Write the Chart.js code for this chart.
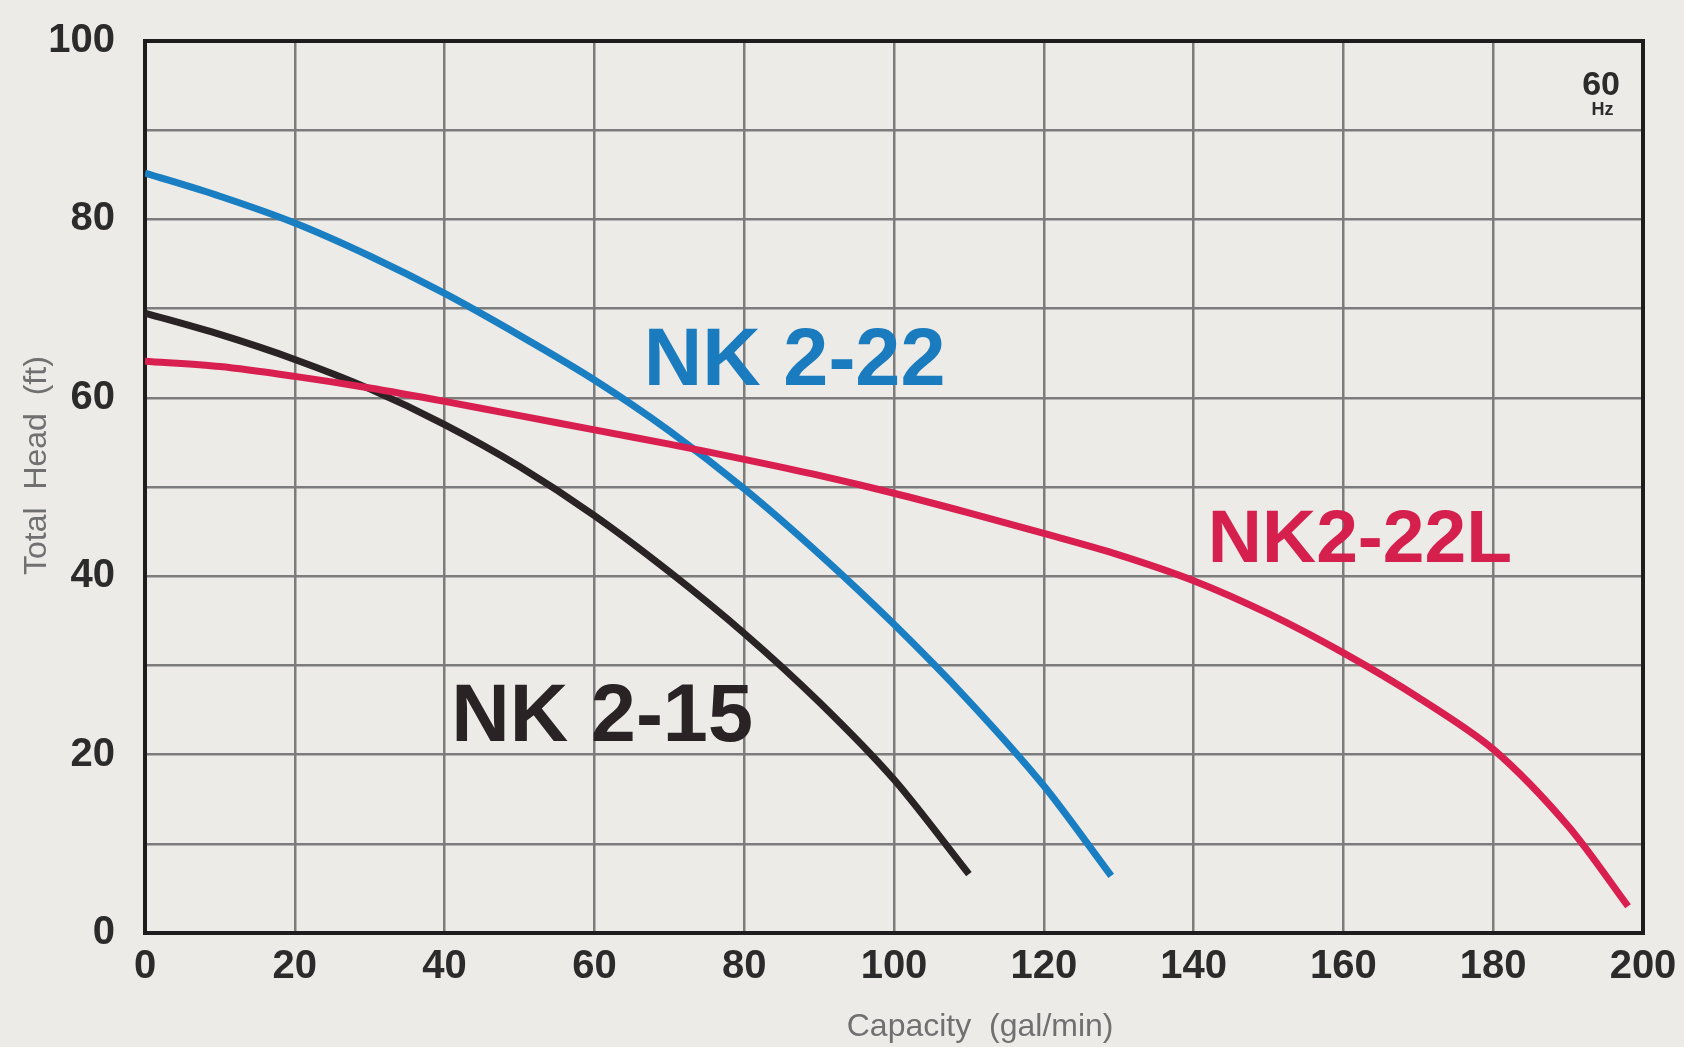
<!DOCTYPE html>
<html>
<head>
<meta charset="utf-8">
<script src="https://cdn.jsdelivr.net/npm/chart.js@4.4.0/dist/chart.umd.min.js"></script>
<style>
  html, body { margin: 0; padding: 0; background: #ecebe7; }
  #wrap { position: relative; width: 1684px; height: 1047px; }
</style>
</head>
<body>
<div id="wrap"><canvas id="c"></canvas></div>
<script>
// ---- Data ----
const capNK215  = [0, 10, 20, 30, 40, 50, 60, 70, 80, 90, 100, 110];
const headNK215 = [69.5, 67.1, 64.3, 61.0, 57.0, 52.3, 46.8, 40.5, 33.6, 25.9, 17.2, 6.6];

const capNK222  = [0, 10, 20, 30, 40, 50, 60, 70, 80, 90, 100, 110, 120, 129];
const headNK222 = [85.2, 82.6, 79.6, 75.9, 71.7, 67.0, 62.0, 56.3, 49.8, 42.5, 34.6, 26.0, 16.5, 6.4];

const capNK222L  = [0, 10, 20, 30, 40, 50, 60, 70, 80, 90, 100, 110, 120, 130, 140, 150, 160, 170, 180, 190, 198];
const headNK222L = [64.1, 63.5, 62.4, 61.1, 59.6, 58.0, 56.4, 54.8, 53.1, 51.3, 49.3, 47.1, 44.8, 42.4, 39.5, 35.8, 31.4, 26.4, 20.6, 12.0, 3.0];

const seriesNames  = ['NK 2-15', 'NK 2-22', 'NK2-22L'];
const seriesColors = ['#2a2325', '#1a7ec2', '#d81f50'];

const xTickMin = 0, xTickMax = 200, xTickStep = 20;
const yTickMin = 0, yTickMax = 100, yGridStep = 10, yLabelStep = 20;

const xTitle = 'Capacity  (gal/min)';
const yTitle = 'Total  Head  (ft)';

// In-chart text labels, positioned in data units
const curveLabels = [
  { text: 'NK 2-15', x: 40.9, y: 21.5, color: '#2a2325', size: 81 },
  { text: 'NK 2-22', x: 66.6, y: 61.4, color: '#1a7bbf', size: 81 },
  { text: 'NK2-22L', x: 141.9, y: 41.6, color: '#d5204e', size: 75 }
];
const freqLabel = [
  { text: '60', x: 194.4, y: 94.0, size: 34 },
  { text: 'Hz', x: 194.6, y: 91.7, size: 18 }
];

function pts(xs, ys) { return xs.map((x, i) => ({ x: x, y: ys[i] })); }

const FONT = '"Liberation Sans", Arial, Helvetica, sans-serif';

const framePlugin = {
  id: 'frame',
  beforeDatasetsDraw(chart) {
    const { ctx, chartArea: a } = chart;
    ctx.save();
    ctx.strokeStyle = '#1f1c1d';
    ctx.lineWidth = 4;
    ctx.strokeRect(a.left, a.top, a.right - a.left, a.bottom - a.top);
    ctx.restore();
  },
  afterDatasetsDraw(chart) {
    const { ctx, chartArea: a, scales } = chart;
    const xs = scales.x, ys = scales.y;
    ctx.save();
    ctx.textAlign = 'left';
    ctx.textBaseline = 'alphabetic';
    curveLabels.forEach(l => {
      ctx.font = 'bold ' + l.size + 'px ' + FONT;
      ctx.fillStyle = l.color;
      ctx.fillText(l.text, xs.getPixelForValue(l.x), ys.getPixelForValue(l.y));
    });
    ctx.textAlign = 'center';
    ctx.fillStyle = '#2b2b2b';
    freqLabel.forEach(l => {
      ctx.font = 'bold ' + l.size + 'px ' + FONT;
      ctx.fillText(l.text, xs.getPixelForValue(l.x), ys.getPixelForValue(l.y));
    });
    ctx.fillStyle = '#707070';
    ctx.font = '32px ' + FONT;
    ctx.textAlign = 'center';
    ctx.fillText(xTitle, a.left + (a.right - a.left) * 0.5575, 1036);
    ctx.translate(46, a.top + (a.bottom - a.top) * 0.476);
    ctx.rotate(-Math.PI / 2);
    ctx.fillText(yTitle, 0, 0);
    ctx.restore();
  }
};

const mk = (label, xs, ys, color) => ({
  label: label,
  data: pts(xs, ys),
  borderColor: color,
  backgroundColor: color,
  borderWidth: 7,
  pointRadius: 0,
  borderCapStyle: 'butt',
  tension: 0.3,
  fill: false
});

new Chart(document.getElementById('c'), {
  type: 'line',
  data: {
    datasets: [
      mk(seriesNames[2], capNK222L, headNK222L, seriesColors[2]),
      mk(seriesNames[1], capNK222, headNK222, seriesColors[1]),
      mk(seriesNames[0], capNK215, headNK215, seriesColors[0])
    ]
  },
  options: {
    responsive: true,
    maintainAspectRatio: false,
    animation: false,
    layout: { padding: { left: 0, top: 41, right: 41, bottom: 0 } },
    plugins: { legend: { display: false }, tooltip: { enabled: false } },
    scales: {
      x: {
        type: 'linear',
        min: xTickMin, max: xTickMax,
        afterFit(s) { s.height = 114; s.paddingLeft = 0; s.paddingRight = 0; },
        ticks: {
          stepSize: xTickStep,
          padding: 10,
          color: '#2b2b2b',
          font: { family: FONT, size: 40, weight: 'bold' },
          maxRotation: 0
        },
        grid: { color: '#7c7c7c', lineWidth: 2.5, drawTicks: false },
        border: { display: false }
      },
      y: {
        type: 'linear',
        min: yTickMin, max: yTickMax,
        afterFit(s) { s.width = 145; s.paddingTop = 0; s.paddingBottom = 0; },
        ticks: {
          stepSize: yGridStep,
          padding: 30,
          color: '#2b2b2b',
          font: { family: FONT, size: 40, weight: 'bold' },
          callback: v => (v % yLabelStep === 0 ? String(v) : '')
        },
        grid: { color: '#7c7c7c', lineWidth: 2.5, drawTicks: false },
        border: { display: false }
      }
    }
  },
  plugins: [framePlugin]
});
</script>
</body>
</html>
